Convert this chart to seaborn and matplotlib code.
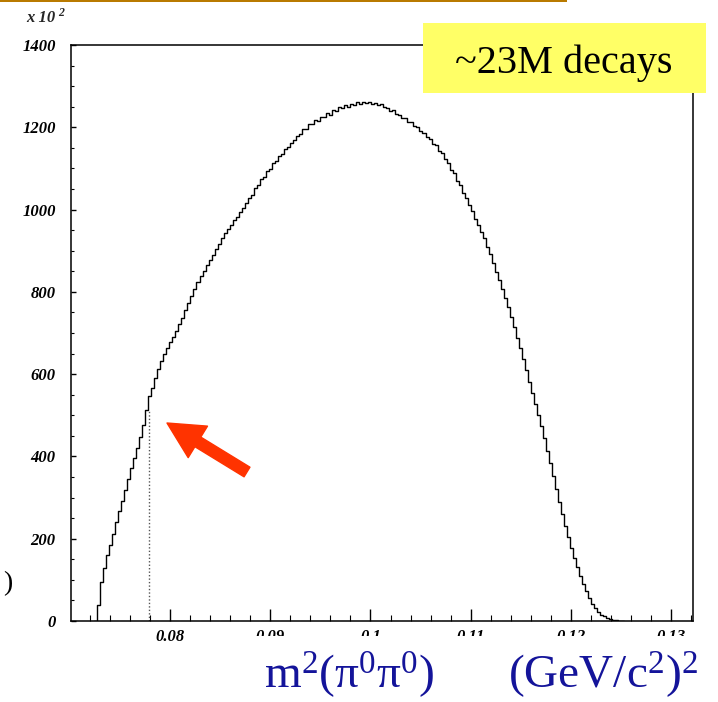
import matplotlib
matplotlib.use('Agg')
import matplotlib.pyplot as plt
from matplotlib.patches import Rectangle
from matplotlib.ticker import MultipleLocator, FuncFormatter
import numpy as np
import pandas as pd
import seaborn as sns

# histogram contents (units of 10^2 entries), bins of 0.0003 (GeV/c^2)^2 starting at 0.0724
bin_lo = 0.0724
bin_width = 0.0003
counts = [
    0,
    38, 95, 130, 160, 185, 212, 241, 268, 291, 318,
    346, 372, 396, 421, 448, 476, 512, 548, 567, 590,
    612, 632, 650, 664, 678, 690, 706, 721, 737, 757,
    773, 790, 808, 825, 838, 851, 865, 878, 890, 903,
    917, 930, 942, 952, 963, 974, 983, 994, 1005, 1016,
    1027, 1035, 1052, 1060, 1075, 1080, 1094, 1099, 1113, 1118,
    1131, 1135, 1147, 1151, 1163, 1168, 1180, 1184, 1195, 1197,
    1207, 1208, 1217, 1216, 1226, 1226, 1235, 1231, 1241, 1240,
    1249, 1247, 1253, 1250, 1257, 1254, 1261, 1257, 1262, 1259,
    1262, 1257, 1259, 1253, 1256, 1249, 1248, 1240, 1243, 1233,
    1231, 1222, 1222, 1212, 1213, 1202, 1201, 1190, 1187, 1176,
    1172, 1160, 1156, 1143, 1138, 1122, 1114, 1097, 1088, 1070,
    1060, 1041, 1029, 1010, 996, 978, 963, 945, 931, 910,
    891, 871, 849, 828, 806, 784, 762, 738, 714, 689,
    664, 637, 609, 581, 553, 527, 500, 474, 444, 413,
    383, 352, 321, 290, 259, 232, 205, 178, 154, 132,
    110, 90, 72, 56, 42, 31, 22, 15, 11, 8,
    5, 3, 2, 1, 0.4, 0,
]
cusp_x = 0.0779      # (2 m_pi+)^2 threshold
cusp_y = 514
xticks = [0.08, 0.09, 0.10, 0.11, 0.12, 0.13]
yticks = [0, 200, 400, 600, 800, 1000, 1200, 1400]
box_text = '~23M decays'
xlabel_left = r'm$^{\mathrm{2}}$(π$^{\mathrm{0}}$π$^{\mathrm{0}}$)'
xlabel_right = r'(GeV/c$^{\mathrm{2}}$)$^{\mathrm{2}}$'

edges = bin_lo + bin_width * np.arange(len(counts) + 1)
df = pd.DataFrame({'m2': edges[:-1] + bin_width / 2, 'n': counts})

sns.set_theme(style='white')
plt.rcParams['font.family'] = ['Liberation Serif', 'DejaVu Serif']
plt.rcParams['mathtext.fontset'] = 'custom'
plt.rcParams['mathtext.rm'] = 'Liberation Serif'
plt.rcParams['mathtext.it'] = 'Liberation Serif:italic'

fig = plt.figure(figsize=(7.18, 7.02), dpi=100)
ax = fig.add_axes([71 / 718, 81 / 702, 622 / 718, 576 / 702])

sns.histplot(data=df, x='m2', weights='n', binwidth=bin_width,
             binrange=(edges[0], edges[-1] - bin_width / 2), element='step', fill=False,
             color='black', linewidth=1.0, ax=ax)
ax.vlines(cusp_x, 0, cusp_y, colors='#555555', linestyles=(0, (1, 1.5)), linewidth=1.0)

ax.set_xlim(0.0701, 0.1322)
ax.set_ylim(0, 1400)
ax.set_xlabel('')
ax.set_ylabel('')
ax.set_xticks(xticks)
ax.set_yticks(yticks)
ax.xaxis.set_minor_locator(MultipleLocator(0.002))
ax.yaxis.set_minor_locator(MultipleLocator(50))
ax.xaxis.set_major_formatter(FuncFormatter(lambda v, p: f'{v:g}'))
ax.tick_params(which='both', bottom=True, left=True, top=False, right=False, colors='black')
ax.tick_params(axis='x', which='major', direction='in', length=9, width=1, pad=6)
ax.tick_params(axis='x', which='minor', direction='in', length=4.5, width=0.8)
ax.tick_params(axis='y', which='major', direction='in', length=3.5, width=1, pad=11)
ax.tick_params(axis='y', which='minor', direction='in', length=2, width=0.8)
for lab in ax.get_xticklabels() + ax.get_yticklabels():
    lab.set_fontweight('bold')
    lab.set_fontstyle('italic')
    lab.set_fontsize(12)
for s in ax.spines.values():
    s.set_color('black')
    s.set_linewidth(1.1)

# exponent label
fig.text(26 / 718, 1 - 22 / 702, 'x 10', fontsize=12, fontweight='bold', fontstyle='italic')
fig.text(58 / 718, 1 - 16 / 702, '2', fontsize=8.5, fontweight='bold', fontstyle='italic')

# orange rule at top of slide
fig.add_artist(Rectangle((0, 1 - 2 / 702), 567 / 718, 2 / 702, transform=fig.transFigure,
                         facecolor='#b97a00', edgecolor='none', zorder=3))

# yellow label box
fig.add_artist(Rectangle((423 / 718, 1 - 93 / 702), 283 / 718, 70 / 702, transform=fig.transFigure,
                         facecolor='#ffff66', edgecolor='none', zorder=3))
fig.text(564 / 718, 1 - 73 / 702, box_text, fontsize=29, ha='center', va='baseline', color='black', zorder=4)

# white panel behind the big axis title (it hides the lower half of tick labels)
fig.add_artist(Rectangle((215 / 718, 0), 503 / 718, 66 / 702, transform=fig.transFigure,
                         facecolor='white', edgecolor='none', zorder=3))
fig.text(349 / 718, 14 / 702, xlabel_left, fontsize=34, color='#14149a', ha='center', va='baseline', zorder=4)
fig.text(603 / 718, 14 / 702, xlabel_right, fontsize=34, color='#14149a', ha='center', va='baseline', zorder=4)

# leftover of a cut-off y title
fig.text(12 / 718, 1 - 584 / 702, ')', fontsize=20, ha='right', va='center', color='black')

# red arrow pointing at the cusp
ax.annotate('', xy=(167, 702 - 423), xycoords='figure pixels',
            xytext=(247, 702 - 472), textcoords='figure pixels',
            arrowprops=dict(arrowstyle='simple,head_length=0.93,head_width=0.95,tail_width=0.29',
                            mutation_scale=28, color='#ff3300', shrinkA=0, shrinkB=0))

fig.savefig('out.png', dpi=100)
